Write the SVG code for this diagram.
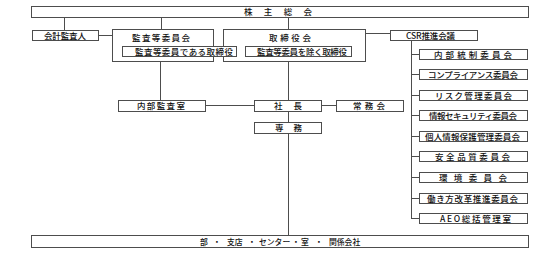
<svg xmlns="http://www.w3.org/2000/svg" width="537" height="256" viewBox="0 0 537 256">
<style>
rect{fill:#fff;stroke:#4d4d4d;stroke-width:1}
.c line{stroke:#4d4d4d;stroke-width:1;fill:none}
text{font-family:"Noto Sans CJK JP","Liberation Sans",sans-serif;font-size:8.5px;fill:#111;font-weight:500}
.b{font-size:7.8px}
</style>
<rect x="0" y="0" width="537" height="256" style="fill:#fff;stroke:none"/>
<g class="c" id="connectors">
<line x1="64.5" y1="17" x2="64.5" y2="30"/>
<line x1="161.5" y1="17" x2="161.5" y2="29"/>
<line x1="288.5" y1="17" x2="288.5" y2="29"/>
<line x1="98" y1="35.5" x2="112" y2="35.5"/>
<line x1="365" y1="33.5" x2="390" y2="33.5"/>
<line x1="411.5" y1="40" x2="411.5" y2="218.5"/>
<line x1="411" y1="54.5" x2="419" y2="54.5"/>
<line x1="411" y1="74.5" x2="419" y2="74.5"/>
<line x1="411" y1="95.5" x2="419" y2="95.5"/>
<line x1="411" y1="115.5" x2="419" y2="115.5"/>
<line x1="411" y1="136.5" x2="419" y2="136.5"/>
<line x1="411" y1="156.5" x2="419" y2="156.5"/>
<line x1="411" y1="177.5" x2="419" y2="177.5"/>
<line x1="411" y1="198.5" x2="419" y2="198.5"/>
<line x1="411" y1="218.5" x2="419" y2="218.5"/>
<line x1="160.5" y1="61" x2="160.5" y2="100"/>
<line x1="205" y1="105.5" x2="254" y2="105.5"/>
<line x1="288.5" y1="61" x2="288.5" y2="100"/>
<line x1="321" y1="105.5" x2="336" y2="105.5"/>
<line x1="288.5" y1="111" x2="288.5" y2="122"/>
<line x1="288.5" y1="133" x2="288.5" y2="235"/>
</g>
<g id="n-kabunushi"><rect x="31.5" y="6.5" width="497" height="11"/><text x="244" y="15" textLength="68" lengthAdjust="spacing">株　主　総　会</text></g>
<g id="n-kaikei"><rect x="32.5" y="30.5" width="66" height="10"/><text x="44" y="38.5" textLength="42" lengthAdjust="spacing">会計監査人</text></g>
<g id="n-kansa"><rect x="112.5" y="29.5" width="101" height="32"/><text x="132" y="41" textLength="58" lengthAdjust="spacing">監査等委員会</text></g>
<g id="n-torishimari"><rect x="223.5" y="29.5" width="142" height="32"/><text x="269" y="41" textLength="42" lengthAdjust="spacing">取締役会</text></g>
<g id="n-kansa-inner"><rect x="122.5" y="46.5" width="114" height="10"/><text x="135" y="54.5" textLength="98" lengthAdjust="spacing">監査等委員である取締役</text></g>
<g id="n-torishimari-inner"><rect x="245.5" y="46.5" width="106" height="10"/><text x="257" y="54.5" textLength="90" lengthAdjust="spacing">監査等委員を除く取締役</text></g>
<g id="n-csr"><rect x="390.5" y="30.5" width="87" height="10"/><text x="406" y="38.5" textLength="49" lengthAdjust="spacing">CSR推進会議</text></g>
<g id="n-naibutousei"><rect x="419.5" y="49.5" width="108" height="10"/><text x="434" y="57.5" textLength="78" lengthAdjust="spacing">内部統制委員会</text></g>
<g id="n-compliance"><rect x="419.5" y="69.5" width="108" height="10"/><text x="428" y="77.5" textLength="90" lengthAdjust="spacing">コンプライアンス委員会</text></g>
<g id="n-risk"><rect x="419.5" y="90.5" width="108" height="10"/><text x="435" y="98.5" textLength="77" lengthAdjust="spacing">リスク管理委員会</text></g>
<g id="n-security"><rect x="419.5" y="110.5" width="108" height="10"/><text x="429" y="118.5" textLength="88" lengthAdjust="spacing">情報セキュリティ委員会</text></g>
<g id="n-kojin"><rect x="419.5" y="131.5" width="108" height="10"/><text x="425" y="139.5" textLength="95" lengthAdjust="spacing">個人情報保護管理委員会</text></g>
<g id="n-anzen"><rect x="419.5" y="151.5" width="108" height="10"/><text x="435" y="159.5" textLength="75" lengthAdjust="spacing">安全品質委員会</text></g>
<g id="n-kankyo"><rect x="419.5" y="172.5" width="108" height="10"/><text x="439" y="180.5" textLength="68" lengthAdjust="spacing">環境委員会</text></g>
<g id="n-hataraki"><rect x="419.5" y="193.5" width="108" height="10"/><text x="427" y="201.5" textLength="91" lengthAdjust="spacing">働き方改革推進委員会</text></g>
<g id="n-aeo"><rect x="419.5" y="213.5" width="108" height="10"/><text x="440" y="221.5" textLength="71" lengthAdjust="spacing">AEO総括管理室</text></g>
<g id="n-naibukansa"><rect x="118.5" y="100.5" width="87" height="11"/><text x="137" y="109" textLength="48" lengthAdjust="spacing">内部監査室</text></g>
<g id="n-shacho"><rect x="254.5" y="100.5" width="67" height="11"/><text x="274" y="109" textLength="28" lengthAdjust="spacing">社　長</text></g>
<g id="n-jomukai"><rect x="336.5" y="100.5" width="67" height="11"/><text x="353" y="109" textLength="32" lengthAdjust="spacing">常務会</text></g>
<g id="n-senmu"><rect x="254.5" y="122.5" width="67" height="11"/><text x="275" y="131" textLength="27" lengthAdjust="spacing">専　務</text></g>
<g id="n-bu"><rect x="31.5" y="235.5" width="497" height="12"/><text class="b" y="244.5"><tspan x="200">部</tspan><tspan x="213">・</tspan><tspan x="227">支店</tspan><tspan x="248">・</tspan><tspan x="259">センター</tspan><tspan x="292">・</tspan><tspan x="301">室</tspan><tspan x="315">・</tspan><tspan x="329">関係会社</tspan></text></g>
</svg>
